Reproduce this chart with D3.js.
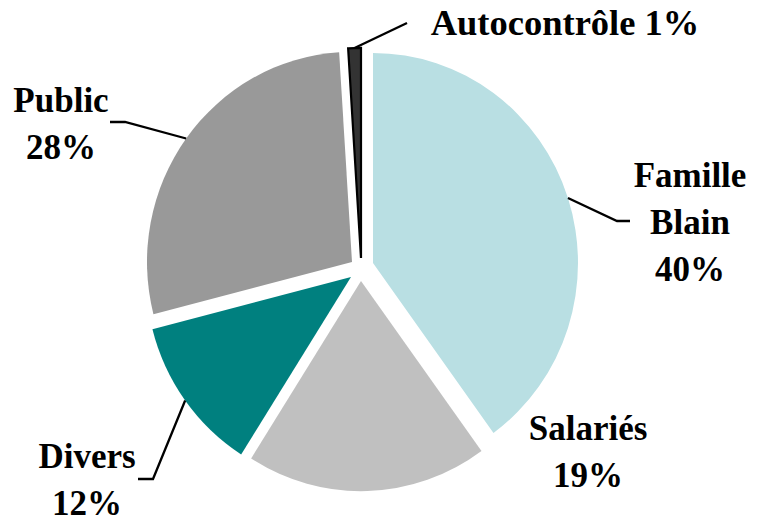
<!DOCTYPE html>
<html>
<head>
<meta charset="utf-8">
<script src="https://cdn.jsdelivr.net/npm/d3@7"></script>
<style>
  html, body { margin: 0; padding: 0; background: #fff; }
  svg { display: block; }
  text { font-family: "Liberation Serif", "Times New Roman", serif; font-weight: bold; fill: #000; }
</style>
</head>
<body>
<svg id="chart" width="757" height="524"></svg>
<script>
// ---- data ----
const categories = ["Famille Blain", "Salariés", "Divers", "Public", "Autocontrôle"];
const values = [40, 19, 12, 28, 1];
const labelLines = [["Famille", "Blain", "40%"], ["Salariés", "19%"], ["Divers", "12%"], ["Public", "28%"], ["Autocontrôle 1%"]];
const colors = ["#B9DFE3", "#C0C0C0", "#00807F", "#999999", "#333333"];

// ---- layout (style) ----
const W = 757, H = 524;
const R = 205, SY = 1.025;
const center = [362, 268];
const offsets = [[11, -5], [-1, 13], [-11, 9], [-10, -6], [-1, -10]];
const labelPos = [[690, 187], [588, 440], [87, 468], [61, 112], [565, 35]];
const labelSize = [35, 35, 35, 35, 36.5];
const lineH = 47;
const leaders = [
  [[617, 221], [630, 221]],
  null,
  [[153, 479], [138, 479]],
  [[125, 122], [110, 122]],
  [[407, 23]]
];

const svg = d3.select("#chart");
const pie = d3.pie().sort(null).value(d => d).startAngle(0).endAngle(2 * Math.PI);
const arcs = pie(values);
const arc = d3.arc().innerRadius(0).outerRadius(R);

const slices = svg.append("g").selectAll("g.slice").data(arcs).join("g")
  .attr("class", "slice")
  .attr("transform", (d, i) => `translate(${center[0] + offsets[i][0]},${center[1] + offsets[i][1]}) scale(1,${SY})`);

slices.append("path")
  .attr("d", arc)
  .attr("fill", (d, i) => colors[i])
  .attr("stroke", (d, i) => i === 4 ? "#000" : "none")
  .attr("stroke-width", (d, i) => i === 4 ? 2.2 : 0)
  .attr("vector-effect", "non-scaling-stroke");

arcs.forEach((d, i) => {
  if (!leaders[i]) return;
  const a = (d.startAngle + d.endAngle) / 2;
  const ox = center[0] + offsets[i][0] + Math.sin(a) * R;
  const oy = center[1] + offsets[i][1] - Math.cos(a) * R * SY;
  const pts = [[ox, oy], ...leaders[i]];
  svg.append("path")
    .attr("d", d3.line()(pts))
    .attr("fill", "none")
    .attr("stroke", "#000")
    .attr("stroke-width", 2.3);
});

labelLines.forEach((lines, i) => {
  const t = svg.append("text")
    .attr("text-anchor", "middle")
    .attr("font-size", labelSize[i])
    .attr("x", labelPos[i][0])
    .attr("y", labelPos[i][1]);
  lines.forEach((ln, j) => {
    t.append("tspan").attr("x", labelPos[i][0]).attr("dy", j === 0 ? 0 : lineH).text(ln);
  });
});
</script>
</body>
</html>
